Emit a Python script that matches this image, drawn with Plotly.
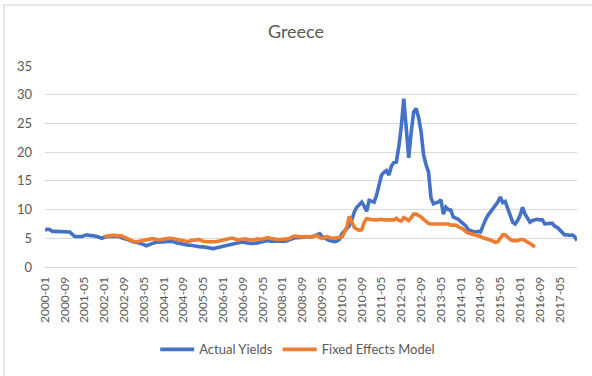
import pandas as pd
import plotly.graph_objects as go

# Monthly observations, January 2000 to December 2017
months = [p.strftime("%Y-%m") for p in pd.period_range("2000-01", "2017-12", freq="M")]

actual_yields = [
    # 2000
    6.4, 6.6, 6.5, 6.2, 6.2, 6.2, 6.1, 6.1, 6.1, 6.2, 6.1, 5.7,
    # 2001
    5.3, 5.3, 5.3, 5.3, 5.5, 5.6, 5.5, 5.5, 5.4, 5.3, 5.1, 5.0,
    # 2002
    5.2, 5.3, 5.3, 5.3, 5.3, 5.3, 5.3, 5.1, 5.0, 4.9, 4.7, 4.5,
    # 2003
    4.3, 4.3, 4.2, 4.1, 3.9, 3.7, 3.9, 4.1, 4.2, 4.3, 4.3, 4.3,
    # 2004
    4.3, 4.4, 4.5, 4.5, 4.4, 4.2, 4.1, 4.0, 4.0, 3.9, 3.8, 3.8,
    # 2005
    3.7, 3.6, 3.6, 3.5, 3.5, 3.4, 3.4, 3.3, 3.2, 3.3, 3.4, 3.6,
    # 2006
    3.7, 3.8, 3.9, 4.0, 4.1, 4.1, 4.2, 4.3, 4.3, 4.2, 4.1, 4.1,
    # 2007
    4.1, 4.1, 4.2, 4.3, 4.4, 4.6, 4.6, 4.5, 4.5, 4.5, 4.4, 4.4,
    # 2008
    4.4, 4.5, 4.6, 4.8, 5.0, 5.1, 5.1, 5.1, 5.1, 5.2, 5.3, 5.2,
    # 2009
    5.3, 5.5, 5.7, 5.8, 5.3, 5.0, 4.8, 4.6, 4.5, 4.4, 4.5, 4.8,
    # 2010
    5.8, 6.2, 6.6, 7.2, 8.2, 9.6, 10.4, 10.8, 11.3, 10.6, 9.7, 11.6,
    # 2011
    11.5, 11.3, 12.5, 14.5, 16.0, 16.5, 16.8, 16.0, 17.6, 18.2, 18.3, 21.0,
    # 2012
    24.5, 29.3, 24.0, 19.0, 23.5, 27.0, 27.6, 26.0, 23.5, 19.5, 17.8, 16.5,
    # 2013
    12.0, 11.0, 11.2, 11.3, 11.7, 9.2, 10.4, 10.0, 9.9, 8.7, 8.5, 8.3,
    # 2014
    7.9, 7.5, 7.2, 6.5, 6.3, 6.2, 6.1, 6.2, 6.1, 7.3, 8.2, 9.0,
    # 2015
    9.6, 10.1, 10.7, 11.3, 12.2, 11.2, 11.4, 10.2, 8.6, 7.8, 7.5, 8.1,
    # 2016
    9.0, 10.4, 9.2, 8.6, 7.8, 8.1, 8.2, 8.3, 8.2, 8.2, 7.5, 7.6,
    # 2017
    7.6, 7.6, 7.1, 6.9, 6.5, 5.9, 5.6, 5.6, 5.5, 5.6, 5.3, 4.6,
]

# Model fit is available from January 2002 to July 2016
model_start = "2002-01"
fixed_effects = [
    # 2002
    5.3, 5.4, 5.5, 5.5, 5.5, 5.5, 5.5, 5.4, 5.2, 5.0, 4.8, 4.6,
    # 2003
    4.4, 4.4, 4.5, 4.6, 4.7, 4.7, 4.8, 4.9, 4.9, 4.8, 4.7, 4.8,
    # 2004
    4.9, 4.9, 5.0, 5.0, 4.9, 4.8, 4.8, 4.7, 4.5, 4.5, 4.4, 4.6,
    # 2005
    4.6, 4.7, 4.8, 4.6, 4.5, 4.4, 4.4, 4.3, 4.4, 4.4, 4.5, 4.6,
    # 2006
    4.7, 4.9, 5.0, 5.0, 5.0, 4.8, 4.7, 4.8, 4.9, 4.9, 4.8, 4.7,
    # 2007
    4.7, 4.8, 4.9, 4.8, 4.9, 5.0, 5.1, 5.0, 4.9, 4.9, 4.8, 4.8,
    # 2008
    4.8, 4.8, 4.9, 5.0, 5.3, 5.4, 5.3, 5.2, 5.2, 5.3, 5.3, 5.2,
    # 2009
    5.2, 5.4, 5.5, 5.1, 5.0, 5.1, 5.3, 5.1, 5.0, 5.0, 5.1, 5.1,
    # 2010
    5.2, 6.0, 7.0, 8.8, 7.8, 6.9, 6.6, 6.4, 6.5, 7.8, 8.4, 8.3,
    # 2011
    8.2, 8.2, 8.2, 8.3, 8.3, 8.2, 8.2, 8.3, 8.2, 8.2, 8.5, 8.1,
    # 2012
    8.0, 8.6, 8.4, 8.1, 8.6, 9.2, 9.2, 9.0, 8.7, 8.3, 8.0, 7.6,
    # 2013
    7.5, 7.5, 7.5, 7.5, 7.5, 7.5, 7.6, 7.5, 7.3, 7.3, 7.3, 7.0,
    # 2014
    6.8, 6.6, 6.2, 5.9, 5.8, 5.7, 5.6, 5.5, 5.3, 5.1, 5.0, 4.9,
    # 2015
    4.7, 4.5, 4.3, 4.4, 5.1, 5.6, 5.6, 5.1, 4.8, 4.6, 4.6, 4.6,
    # 2016
    4.8, 4.8, 4.6, 4.4, 4.1, 3.8, 3.5,
]
model_months = months[months.index(model_start):][:len(fixed_effects)]

y_ticks = [0, 5, 10, 15, 20, 25, 30, 35]
x_ticks = months[::8]

FONT = "Lato, 'Open Sans', sans-serif"
TEXT = "#595959"
GRID = "#d9d9d9"

fig = go.Figure()
fig.add_trace(go.Scatter(
    x=months, y=actual_yields, name="Actual Yields", mode="lines",
    line=dict(color="#4472C4", width=3.6),
))
fig.add_trace(go.Scatter(
    x=model_months, y=fixed_effects, name="Fixed Effects Model", mode="lines",
    line=dict(color="#ED7D31", width=3.6),
))

fig.update_layout(
    width=592, height=376,
    margin=dict(l=45, r=15, t=66, b=107),
    paper_bgcolor="white", plot_bgcolor="white",
    font=dict(family=FONT, color=TEXT, size=12),
    title=dict(text="Greece", x=0.5, xanchor="center", y=0.915, yanchor="middle",
               font=dict(family=FONT, size=18, color=TEXT)),
    showlegend=True,
    legend=dict(orientation="h", x=0.475, xanchor="center", y=-0.41, yanchor="middle",
                font=dict(family=FONT, size=13, color=TEXT), itemwidth=34,
                bgcolor="rgba(0,0,0,0)"),
    shapes=[dict(type="rect", xref="paper", yref="paper",
                 x0=-0.0771, x1=1.2, y0=-0.8, y1=1.303,
                 line=dict(color=GRID, width=1.2), fillcolor="rgba(0,0,0,0)",
                 layer="below")],
)

fig.update_xaxes(
    type="category", categoryorder="array", categoryarray=months,
    range=[0, len(months) - 1],
    tickmode="array", tickvals=x_ticks, ticktext=x_ticks, tickangle=-90,
    showgrid=False, showline=True, linecolor=GRID, linewidth=1,
    ticks="", tickfont=dict(family=FONT, size=12, color=TEXT),
    ticklabelstandoff=4, zeroline=False,
)
fig.update_yaxes(
    range=[0, 35], tickmode="array", tickvals=y_ticks,
    showgrid=True, gridcolor=GRID, gridwidth=1, zeroline=False,
    showline=False, ticks="", tickfont=dict(family=FONT, size=13, color=TEXT),
    ticklabelstandoff=12,
)

fig.write_html("out.html")
